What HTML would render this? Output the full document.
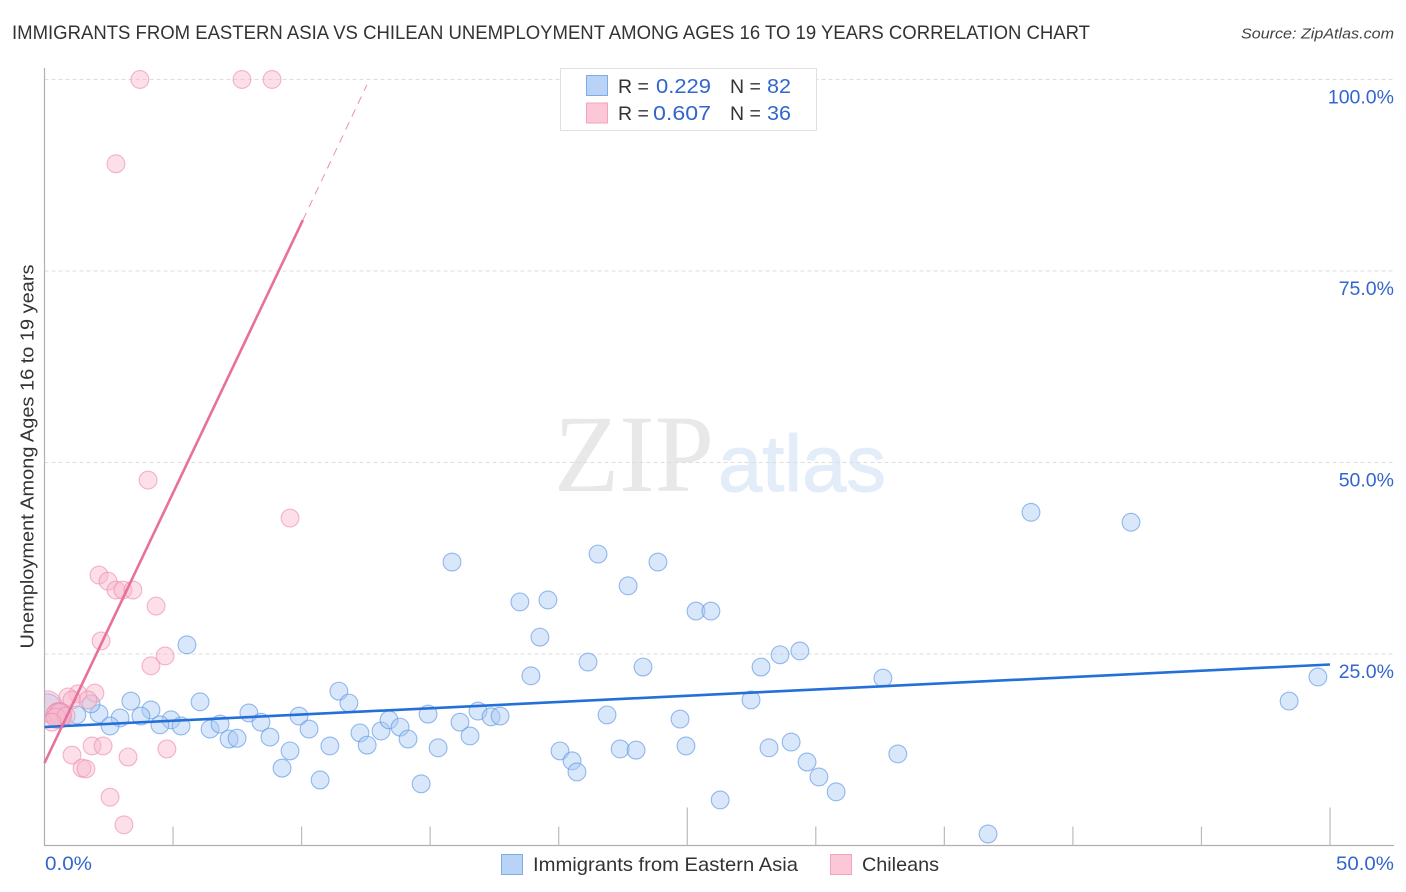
<!DOCTYPE html>
<html lang="en">
<head>
<meta charset="utf-8">
<title>Immigrants from Eastern Asia vs Chilean Unemployment Correlation Chart</title>
<style>
html,body{margin:0;padding:0;background:#fff;}
svg{display:block;font-family:"Liberation Sans",sans-serif;}
</style>
</head>
<body>
<svg id="chart" width="1406" height="892" viewBox="0 0 1406 892" xmlns="http://www.w3.org/2000/svg">
  <rect x="0" y="0" width="1406" height="892" fill="#ffffff"/>
  <text x="12" y="39" font-size="19.5" fill="#333333" textLength="1078" lengthAdjust="spacingAndGlyphs">IMMIGRANTS FROM EASTERN ASIA VS CHILEAN UNEMPLOYMENT AMONG AGES 16 TO 19 YEARS CORRELATION CHART</text>
  <text x="1394" y="38.5" font-size="15" font-style="italic" fill="#444444" text-anchor="end" textLength="153" lengthAdjust="spacingAndGlyphs">Source: ZipAtlas.com</text>

  <g>
    <text x="554" y="491" font-family="'Liberation Serif',serif" font-size="110" fill="#e8e8e8" textLength="160" lengthAdjust="spacingAndGlyphs">ZIP</text>
    <text x="718" y="491" font-size="80" fill="#e3ecf9" stroke="#e3ecf9" stroke-width="1" textLength="168" lengthAdjust="spacingAndGlyphs">atlas</text>
  </g>

  <g id="grid"></g>
  <g id="blue-points"></g>
  <g id="pink-points"></g>
  <rect x="20" y="670" width="24.5" height="80" fill="#ffffff"/>
  <g id="axes"></g>
  <g id="trends"></g>
  <g id="ylabels"></g>
  <g id="xlabels"></g>

  <text transform="translate(33.5,456.5) rotate(-90)" font-size="18.5" fill="#333333" text-anchor="middle" textLength="384" lengthAdjust="spacingAndGlyphs">Unemployment Among Ages 16 to 19 years</text>

  <g>
    <rect x="560.5" y="68.5" width="256" height="62" fill="#ffffff" fill-opacity="0.9" stroke="#e0e0e0" stroke-width="1"/>
    <rect x="586.5" y="75.5" width="21" height="20" fill="#b8d3f6" stroke="#7fabe8" stroke-width="1"/>
    <rect x="586.5" y="103" width="21" height="20" fill="#fcc8d8" stroke="#f3a3bc" stroke-width="1"/>
    <text x="618" y="93" font-size="19.5" fill="#333333">R =</text>
    <text x="656" y="93" font-size="20.5" fill="#3366cc" textLength="55" lengthAdjust="spacingAndGlyphs">0.229</text>
    <text x="730" y="93" font-size="19.5" fill="#333333">N =</text>
    <text x="767" y="93" font-size="20.5" fill="#3366cc" textLength="24" lengthAdjust="spacingAndGlyphs">82</text>
    <text x="618" y="120" font-size="19.5" fill="#333333">R =</text>
    <text x="653" y="120" font-size="20.5" fill="#3366cc" textLength="58" lengthAdjust="spacingAndGlyphs">0.607</text>
    <text x="730" y="120" font-size="19.5" fill="#333333">N =</text>
    <text x="767" y="120" font-size="20.5" fill="#3366cc" textLength="24" lengthAdjust="spacingAndGlyphs">36</text>
  </g>

  <g>
    <rect x="501.5" y="854.5" width="21" height="20" fill="#b8d3f6" stroke="#7fabe8" stroke-width="1"/>
    <text x="533" y="871" font-size="19.5" fill="#333333" textLength="265" lengthAdjust="spacingAndGlyphs">Immigrants from Eastern Asia</text>
    <rect x="830.5" y="854.5" width="21" height="20" fill="#fcc8d8" stroke="#f3a3bc" stroke-width="1"/>
    <text x="862" y="871" font-size="19.5" fill="#333333" textLength="77" lengthAdjust="spacingAndGlyphs">Chileans</text>
  </g>
</svg>
<script>
// Chart data (percent units)
const yTickValues = [25, 50, 75, 100];
const yTickLabels = ["25.0%", "50.0%", "75.0%", "100.0%"];
const xMinorTicks = [5, 10, 15, 20, 30, 35, 40, 45];
const xMajorTicks = [25, 50];
const xTickLabels = ["0.0%", "50.0%"];

const immigrantsX = [38.37,42.26,15.85,21.53,23.86,22.70,18.49,19.58,25.34,25.92,19.27,5.54,21.14,23.28,27.87,28.61,29.38,18.92,32.61,49.53,48.41,11.45,11.84,3.36,6.05,27.48,4.14,7.95,2.12,1.81,2.94,3.75,4.92,4.49,5.31,2.55,6.44,6.83,8.42,9.90,10.29,7.18,7.49,8.77,9.55,9.24,10.72,11.10,12.27,12.55,13.09,13.40,13.83,14.14,14.92,15.31,14.65,16.16,16.55,16.86,17.37,17.72,20.05,20.52,20.71,21.88,22.39,23.01,24.72,24.95,26.28,28.18,29.04,29.66,30.12,30.79,33.19,36.70,0.10,0.56,0.60,1.26];
const immigrantsY = [43.5,42.2,37.0,38.05,37.0,33.9,31.8,32.05,30.6,30.6,27.2,26.2,23.95,23.3,23.3,24.9,25.4,22.15,21.85,22.0,18.85,20.15,18.6,18.85,18.75,19.0,17.7,17.3,17.2,18.5,16.65,16.9,16.4,15.75,15.6,15.6,15.2,15.85,16.1,16.9,15.2,13.9,14.0,14.15,12.35,10.1,8.55,13.0,14.7,13.1,14.95,16.4,15.45,13.9,17.15,12.75,8.05,16.1,14.3,17.55,16.8,16.9,12.35,11.05,9.6,17.05,12.6,12.45,16.5,13.0,5.95,12.75,13.5,10.9,8.95,7.0,11.95,1.5,17.95,17.04,16.9,17.05];
const immigrantsSize = [1,1,1,1,1,1,1,1,1,1,1,1,1,1,1,1,1,1,1,1,1,1,1,1,1,1,1,1,1,1,1,1,1,1,1,1,1,1,1,1,1,1,1,1,1,1,1,1,1,1,1,1,1,1,1,1,1,1,1,1,1,1,1,1,1,1,1,1,1,1,1,1,1,1,1,1,1,1,1.6,1.4,1.3,1];

const chileansX = [3.71,7.68,8.85,2.78,4.03,9.55,2.12,2.47,2.78,3.05,3.44,4.34,2.20,4.69,4.14,1.96,1.30,0.91,1.07,1.69,1.07,1.85,2.28,3.25,4.76,1.46,1.61,2.55,3.09,0.10,0.56,0.53,0.60,0.45,0.84,0.29];
const chileansY = [100,100,100,89.0,47.7,42.75,35.3,34.5,33.35,33.35,33.35,31.25,26.7,24.75,23.45,19.9,19.8,19.4,19.0,19.0,11.8,13.0,13.0,11.55,12.6,10.1,10.0,6.3,2.7,18.2,17.04,16.9,17.17,16.65,16.9,16.1];
const chileansSize = [1,1,1,1,1,1,1,1,1,1,1,1,1,1,1,1,1,1,1,1,1,1,1,1,1,1,1,1,1,1.7,1.4,1.4,1.2,1.1,1,1];

const immigrantsTrendX = [0, 50];
const immigrantsTrendY = [15.47, 23.63];
const chileansTrendX = [0, 10.05];
const chileansTrendY = [10.77, 81.65];
const chileansDashX = [10.05, 12.54];
const chileansDashY = [81.65, 99.3];

// Axis functions
const sx = v => 44.5 + v * 25.71;
const sy = v => 845.5 - v * 7.66;

const NS = "http://www.w3.org/2000/svg";
function mk(tag, parent, attrs) {
  const el = document.createElementNS(NS, tag);
  for (const k in attrs) el.setAttribute(k, attrs[k]);
  document.getElementById(parent).appendChild(el);
  return el;
}

// Gridlines and y labels
yTickValues.forEach((v, i) => {
  const g = mk("line", "grid", {x1: 44.5, x2: 1394, y1: sy(v), y2: sy(v), stroke: "#dddddd", "stroke-width": 1, "stroke-dasharray": "4 3"});
  
  
  const t = mk("text", "ylabels", {x: 1394, y: sy(v) + 24, "font-size": 19.5, fill: "#3366cc", "text-anchor": "end"});
  
  
  t.textContent = yTickLabels[i];
});

// Axes
const yAxis = mk("line", "axes", {x1: 44.5, x2: 44.5, y1: 68, y2: 846, stroke: "#b0b0b0", "stroke-width": 1.2});


const xAxis = mk("line", "axes", {x1: 44, x2: 1394, y1: 845.5, y2: 845.5, stroke: "#b0b0b0", "stroke-width": 1.2});


xMinorTicks.forEach(v => {
  const t = mk("line", "axes", {x1: sx(v), x2: sx(v), y1: 826.5, y2: 845.5, stroke: "#bbbbbb", "stroke-width": 1.2});
  
  
});
xMajorTicks.forEach(v => {
  const t = mk("line", "axes", {x1: sx(v), x2: sx(v), y1: 807.5, y2: 845.5, stroke: "#bbbbbb", "stroke-width": 1.2});
  
  
});

// X labels
const x0Label = mk("text", "xlabels", {x: 45, y: 870, "font-size": 19.5, fill: "#3366cc", textLength: 47, lengthAdjust: "spacingAndGlyphs"});


x0Label.textContent = xTickLabels[0];
const x1Label = mk("text", "xlabels", {x: 1336, y: 870, "font-size": 19.5, fill: "#3366cc", textLength: 58, lengthAdjust: "spacingAndGlyphs"});


x1Label.textContent = xTickLabels[1];

// Points
immigrantsX.forEach((v, i) => {
  const c = mk("circle", "blue-points", {cx: sx(v), cy: sy(immigrantsY[i]), r: 8.9 * immigrantsSize[i], fill: "#a9c9f3", "fill-opacity": 0.45, stroke: "#5f97e3", "stroke-opacity": 0.65, "stroke-width": 1.1});
  
  
});
chileansX.forEach((v, i) => {
  const c = mk("circle", "pink-points", {cx: sx(v), cy: sy(chileansY[i]), r: 8.9 * chileansSize[i], fill: "#f9b9cd", "fill-opacity": 0.45, stroke: "#ee8fae", "stroke-opacity": 0.65, "stroke-width": 1.1});
  
  
});

// Trend lines
const blueTrend = mk("line", "trends", {x1: sx(immigrantsTrendX[0]), y1: sy(immigrantsTrendY[0]), x2: sx(immigrantsTrendX[1]), y2: sy(immigrantsTrendY[1]), stroke: "#2470d8", "stroke-width": 2.6});


const pinkTrend = mk("line", "trends", {x1: sx(chileansTrendX[0]), y1: sy(chileansTrendY[0]), x2: sx(chileansTrendX[1]), y2: sy(chileansTrendY[1]), stroke: "#e8709c", "stroke-width": 2.6});


const pinkDash = mk("line", "trends", {x1: sx(chileansDashX[0]), y1: sy(chileansDashY[0]), x2: sx(chileansDashX[1]), y2: sy(chileansDashY[1]), stroke: "#e8709c", "stroke-width": 1, "stroke-opacity": 0.8, "stroke-dasharray": "8 6.3"});


</script>
</body>
</html>
